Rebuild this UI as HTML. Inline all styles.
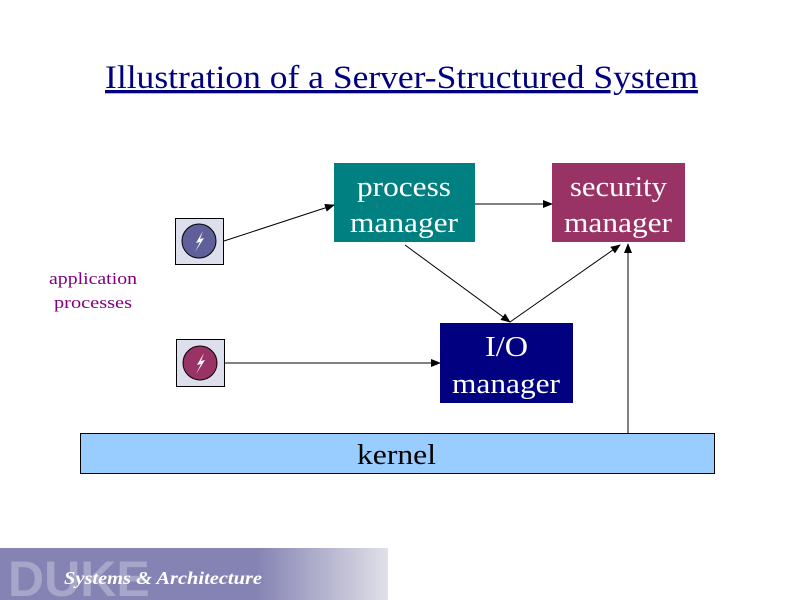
<!DOCTYPE html>
<html><head><meta charset="utf-8"><style>
body{margin:0;width:800px;height:600px;background:#fff;overflow:hidden}
svg{display:block}
</style></head><body>
<svg width="800" height="600" xmlns="http://www.w3.org/2000/svg" font-family="Liberation Serif, serif">
<defs>
<linearGradient id="g" x1="0" x2="1"><stop offset="0" stop-color="#8583b3"/><stop offset="0.66" stop-color="#8583b3"/><stop offset="1" stop-color="#e0e0e8"/></linearGradient>
<marker id="a" markerWidth="10" markerHeight="8" refX="9" refY="4" orient="auto" markerUnits="userSpaceOnUse"><path d="M0,0 L10,4 L0,8 z" fill="#000"/></marker>
</defs>
<text x="105" y="88" font-size="33" fill="#000080" textLength="593" lengthAdjust="spacingAndGlyphs" text-decoration="underline">Illustration of a Server-Structured System</text>
<rect x="334" y="163" width="141" height="79" fill="#008080"/>
<text x="357" y="196" font-size="28" fill="#fff" textLength="94" lengthAdjust="spacingAndGlyphs">process</text>
<text x="350" y="232" font-size="28" fill="#fff" textLength="108" lengthAdjust="spacingAndGlyphs">manager</text>
<rect x="552" y="163" width="133" height="79" fill="#993366"/>
<text x="570" y="196" font-size="28" fill="#fff" textLength="97" lengthAdjust="spacingAndGlyphs">security</text>
<text x="564" y="232" font-size="28" fill="#fff" textLength="108" lengthAdjust="spacingAndGlyphs">manager</text>
<rect x="440" y="323" width="133" height="80" fill="#000080"/>
<text x="485" y="356" font-size="28" fill="#fff" textLength="43" lengthAdjust="spacingAndGlyphs">I/O</text>
<text x="452" y="393" font-size="28" fill="#fff" textLength="108" lengthAdjust="spacingAndGlyphs">manager</text>
<rect x="80.5" y="433.5" width="634" height="40" fill="#99ccff" stroke="#000"/>
<text x="357" y="464" font-size="28" fill="#000" textLength="79" lengthAdjust="spacingAndGlyphs">kernel</text>
<text x="49" y="284" font-size="17" fill="#800080" textLength="88" lengthAdjust="spacingAndGlyphs">application</text>
<text x="54" y="308" font-size="17" fill="#800080" textLength="78" lengthAdjust="spacingAndGlyphs">processes</text>
<rect x="175.5" y="218.5" width="48" height="46" fill="#dde0ec" stroke="#000"/>
<circle cx="199" cy="241" r="17" fill="#5f5f99" stroke="#000"/>
<path d="M203,231 L196,243 L200,242 L195,252 L204,238 L200,239 Z" fill="#fff"/>
<rect x="176.5" y="339.5" width="48" height="47" fill="#dde0ec" stroke="#000"/>
<circle cx="200" cy="363" r="17" fill="#993366" stroke="#000"/>
<path d="M204,353 L197,365 L201,364 L196,374 L205,360 L201,361 Z" fill="#fff"/>
<g stroke="#000" stroke-width="1" fill="none" marker-end="url(#a)">
<line x1="224" y1="241" x2="334" y2="205"/>
<line x1="225" y1="363" x2="440" y2="363"/>
<line x1="475" y1="204" x2="552" y2="204"/>
<line x1="405" y1="245" x2="510" y2="322"/>
<line x1="510" y1="322" x2="620" y2="245"/>
<line x1="628" y1="433" x2="628" y2="244"/>
</g>
<rect x="0" y="548" width="388" height="52" fill="url(#g)"/>
<text x="8" y="596" font-size="50" font-weight="bold" font-family="Liberation Sans, sans-serif" fill="#a8a6c8">DUKE</text>
<text x="64" y="584" font-size="18" font-style="italic" font-weight="bold" fill="#fff" textLength="198" lengthAdjust="spacingAndGlyphs">Systems &amp; Architecture</text>
</svg>
</body></html>
